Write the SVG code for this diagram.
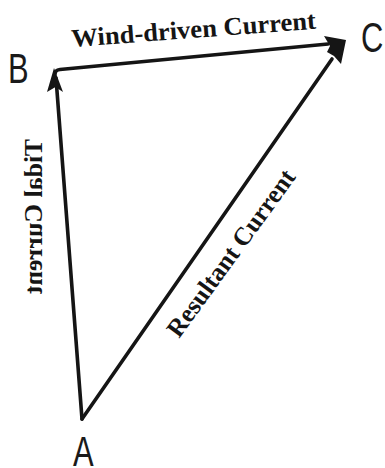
<svg xmlns="http://www.w3.org/2000/svg" width="385" height="468" viewBox="0 0 385 468">
<style>
.ln{fill:none;stroke:#151515;stroke-width:3.6;stroke-linecap:round;stroke-linejoin:round}
.ah{fill:#151515}
.lbl{font-family:"Liberation Sans",Arial,sans-serif;font-size:43px;fill:#1a1a1a}
.cap{font-family:"Liberation Serif","Times New Roman",serif;font-weight:bold;font-size:25.5px;fill:#151515}
</style>
<rect width="385" height="468" fill="#ffffff"/>
<g id="connectors">
<path class="ln" d="M82,419 L56,78"/>
<path class="ln" d="M55,74 Q55,70 60,69.5 L328,44"/>
<path class="ln" d="M82,419 L332,59"/>
<polygon class="ah" points="54,68 63,92 55.5,87 47,92"/>
<polygon class="ah" points="324,36 346,40 341,64 334,56 327,52 330,46"/>
<text class="cap" transform="translate(72,47) rotate(-4.3)" textLength="245" lengthAdjust="spacingAndGlyphs">Wind-driven Current</text>
<text class="cap" transform="matrix(0,1,1,0,42,139)" textLength="155" lengthAdjust="spacingAndGlyphs">Tidal Current</text>
<text class="cap" transform="translate(179,339) rotate(-54)" textLength="200" lengthAdjust="spacingAndGlyphs">Resultant Current</text>
</g>
<g id="node-B"><text class="lbl" transform="translate(8,83) scale(0.72,1)">B</text></g>
<g id="node-C"><text class="lbl" transform="translate(361,52) scale(0.72,1)">C</text></g>
<g id="node-A"><text class="lbl" transform="translate(73,466) scale(0.72,1)">A</text></g>
</svg>
